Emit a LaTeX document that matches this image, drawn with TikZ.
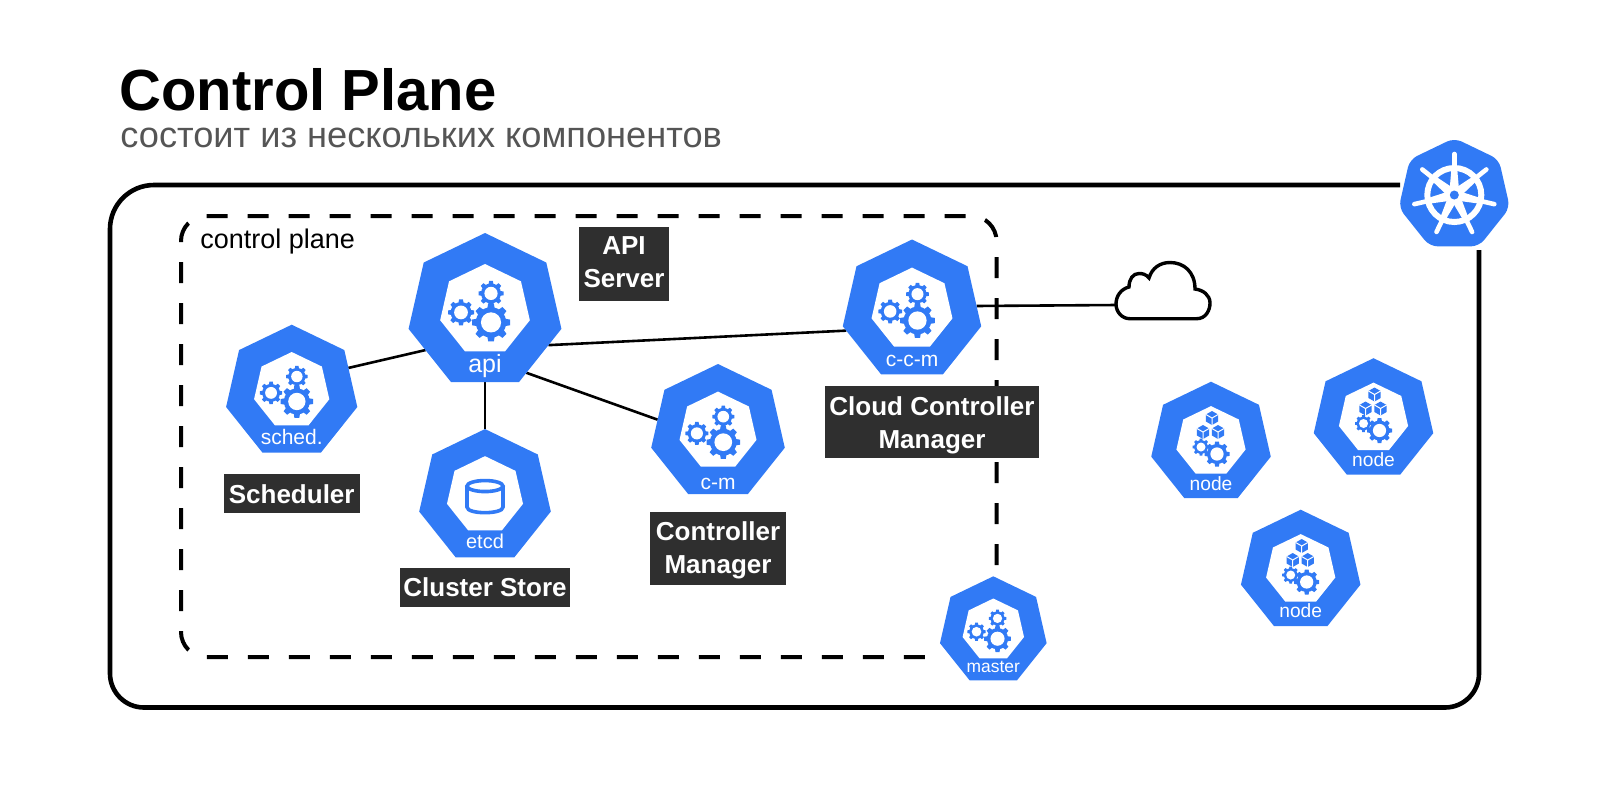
\documentclass[tikz,border=0pt]{standalone}
\usepackage{fontspec}
\setmainfont{Liberation Sans}
\usepackage{xcolor}
\usepackage{tikz}
\usetikzlibrary{shapes.geometric, positioning, backgrounds, calc}
\definecolor{kubeblue}{HTML}{317AF5}
\definecolor{boxgray}{HTML}{2F2F2F}
\definecolor{subgray}{HTML}{555555}

\begin{document}
\begin{tikzpicture}[
    x=0.5pt, y=-0.5pt,
    kubeicon/.style={regular polygon, regular polygon sides=7, inner sep=0pt, outer sep=0pt,
                fill=kubeblue, minimum size=#1},
    kubecore/.style={regular polygon, regular polygon sides=7, inner sep=0pt, outer sep=0pt,
                fill=white, minimum size=#1},
    kubetag/.style={anchor=base, inner sep=0pt, text=white, font=\fontsize{#1}{#1}\selectfont},
    darkbox/.style={fill=boxgray, text=white, align=center, inner sep=0pt,
                font=\fontsize{13pt}{16.5pt}\selectfont\bfseries},
    wire/.style={line width=1.3pt},
    gearwheel/.pic={
        \foreach \a in {0,45,...,315} \fill[kubeblue, rotate=\a] (-.2,.7) -- (-.15,1) -- (.15,1) -- (.2,.7) -- cycle;
        \fill[kubeblue] (0,0) circle (.8);
        \fill[white] (0,0) circle (.53);
    },
    gearset/.pic={
        \pic[scale=13*#1] at (-24*#1,1*#1) {gearwheel};
        \pic[scale=12.5*#1] at (6*#1,-18*#1) {gearwheel};
        \pic[scale=19*#1] at (6*#1,11*#1) {gearwheel};
    },
    cubebox/.pic={
        \fill[kubeblue] (0,-7) -- (6.1,-3.5) -- (6.1,3.5) -- (0,7) -- (-6.1,3.5) -- (-6.1,-3.5) -- cycle;
        \draw[white, line width=.5pt] (-6.1,-3.5) -- (0,0) -- (6.1,-3.5) (0,0) -- (0,7);
    },
    nodeset/.pic={
        \pic at (1,-25) {cubebox};
        \pic at (-8,-11) {cubebox};
        \pic at (7,-11) {cubebox};
        \pic[scale=8.5] at (-10,4) {gearwheel};
        \pic[scale=12.5] at (6,11) {gearwheel};
    },
]
\useasboundingbox (0,0) rectangle (1600,800);

% Titles
\node[anchor=base west, inner sep=0pt, font=\fontsize{29pt}{29pt}\selectfont\bfseries] (title_main) at (119,110) {Control Plane};
\node[anchor=base west, inner sep=0pt, text=subgray, font=\fontsize{18.1pt}{18.1pt}\selectfont] (title_sub) at (120,147.5) {состоит из нескольких компонентов};

% Frames
\draw[line width=2.3pt, rounded corners=17pt] (1479,250) -- (1479,707.5) -- (110,707.5) [rounded corners=22pt] -- (110,185) -- (1400,185);
\draw[line width=2pt, dash pattern=on 10.5pt off 10pt, rounded corners=12.5pt] (996.5,565) -- (996.5,216) -- (181,216) -- (181,657) -- (934,657);
\node[anchor=base west, inner sep=0pt, font=\fontsize{13.5pt}{13.5pt}\selectfont] (plane_text) at (200,248) {control plane};

% api
\node[kubeicon=78.4pt] (api) at (485,311.4) {};
\node[kubecore=46pt] (api_core) at ([yshift=.7pt]api.center) {};
\pic at (api) {gearset=1};
\node[kubetag=12.5pt] (api_tag) at (485,372) {api};
\node[darkbox, minimum width=45pt, minimum height=37pt] (api_box) at (624,264) {API\\Server\rule[-1.5pt]{0pt}{0pt}};

% sched
\node[kubeicon=67.3pt] (sched) at (291.7,392) {};
\node[kubecore=38.6pt] (sched_core) at ([yshift=.7pt]sched.center) {};
\pic at (sched) {gearset=.86};
\node[kubetag=10.5pt] (sched_tag) at (291.7,444) {sched.};
\node[darkbox, minimum width=68pt, minimum height=19.7pt, below=10.5pt of sched] (sched_box) {Scheduler};

% etcd
\node[kubeicon=67.5pt, below=23.5pt of api] (etcd) {};
\node[kubecore=39pt] (etcd_core) at ([yshift=.7pt]etcd.center) {};
\draw[kubeblue, line width=1.8pt] ($(etcd.center)+(0,-10.5)$) ellipse [x radius=18, y radius=5.5];
\draw[kubeblue, line width=1.8pt] ($(etcd.center)+(-18,-10.5)$) -- ($(etcd.center)+(-18,10.5)$) .. controls ($(etcd.center)+(-18,18)$) and ($(etcd.center)+(18,18)$) .. ($(etcd.center)+(18,10.5)$) -- ($(etcd.center)+(18,-10.5)$);
\node[kubetag=10pt] (etcd_tag) at (485,548.3) {etcd};
\node[darkbox, minimum width=85pt, minimum height=19.7pt, below=5pt of etcd] (etcd_box) {Cluster Store};

% c-m
\node[kubeicon=68.5pt] (cm) at (718,432.5) {};
\node[kubecore=39.5pt] (cm_core) at ([yshift=.7pt]cm.center) {};
\pic at (cm) {gearset=.88};
\node[kubetag=10.5pt] (cm_tag) at (718,489) {c-m};
\node[darkbox, minimum width=68pt, minimum height=36.5pt, below=8.5pt of cm] (cm_box) {\rule{0pt}{11.5pt}Controller\\Manager};

% c-c-m
\node[kubeicon=71pt] (ccm) at (912,310.5) {};
\node[kubecore=41.5pt] (ccm_core) at ([yshift=.7pt]ccm.center) {};
\pic at (ccm) {gearset=.91};
\node[kubetag=10.5pt] (ccm_tag) at (912,366) {c-c-m};
\node[darkbox, minimum width=107pt, minimum height=36pt, below=5.5pt of ccm, xshift=10pt] (ccm_box) {\rule{0pt}{12.5pt}Cloud Controller\\Manager};

% master
\node[kubeicon=54.7pt] (master) at (993.3,631) {};
\node[kubecore=31.5pt] (master_core) at ([yshift=.5pt]master.center) {};
\pic at (master) {gearset=.7};
\node[kubetag=8.7pt] (master_tag) at (993.3,672.7) {master};

% nodes
\node[kubeicon=61.3pt] (node_a) at (1211,443) {};
\node[kubecore=35.5pt] (node_a_core) at ([yshift=.7pt]node_a.center) {};
\pic at (node_a) {nodeset};
\node[kubetag=9.6pt] (node_a_tag) at (1211,490) {node};

\node[kubeicon=61.3pt] (node_b) at (1373.5,419.5) {};
\node[kubecore=35.5pt] (node_b_core) at ([yshift=.7pt]node_b.center) {};
\pic at (node_b) {nodeset};
\node[kubetag=9.6pt] (node_b_tag) at (1373.5,466) {node};

\node[kubeicon=61.3pt] (node_c) at (1300.7,571) {};
\node[kubecore=35.5pt] (node_c_core) at ([yshift=.7pt]node_c.center) {};
\pic at (node_c) {nodeset};
\node[kubetag=9.6pt] (node_c_tag) at (1300.7,617.7) {node};

% helm
\node[kubeicon=57pt, rounded corners=4pt] (helm) at (1454.3,195) {};
\draw[white, line width=3pt] (helm.center) circle (27);
\foreach \k in {0,...,6} {
    \draw[white, line width=2.3pt, line cap=round] (helm.center) -- ($(helm.center)+({-90+\k*51.43}:41)$);
    \fill[white] ($(helm.center)+({-90+\k*51.43-30}:9)$) -- ($(helm.center)+({-90+\k*51.43-6}:27)$) -- ($(helm.center)+({-90+\k*51.43+6}:27)$) -- ($(helm.center)+({-90+\k*51.43+30}:9)$) -- cycle;
}
\fill[white] (helm.center) circle (9);
\fill[kubeblue] (helm.center) circle (4.5);

% cloud
\coordinate (cloud_port) at (1116,305);
\draw[line width=1.7pt] (1130,318.7) -- (1196.7,318.7) .. controls (1206,318.7) and (1210,310) .. (1210,303)
    .. controls (1210,295) and (1203,290) .. (1195,289) .. controls (1195,272) and (1184,262.5) .. (1170,262.5)
    .. controls (1160,262.5) and (1152,268) .. (1149,278) .. controls (1146,274) and (1142,273.5) .. (1139,273.5)
    .. controls (1133,273.5) and (1129,279) .. (1129,287) .. controls (1121,289) and (1116,296) .. (1116,304)
    .. controls (1116,312) and (1122,318.7) .. (1130,318.7) -- cycle;

% Connectors
\begin{scope}[on background layer]
\draw[wire] (sched.23) -- (api.213);
\draw[wire] (api.332) -- (ccm.197);
\draw[wire] (api.304) -- (cm.168);
\draw[wire] (api.south) -- (etcd.north);
\draw[wire] (ccm.4.5) -- (cloud_port);
\end{scope}
\end{tikzpicture}
\end{document}
